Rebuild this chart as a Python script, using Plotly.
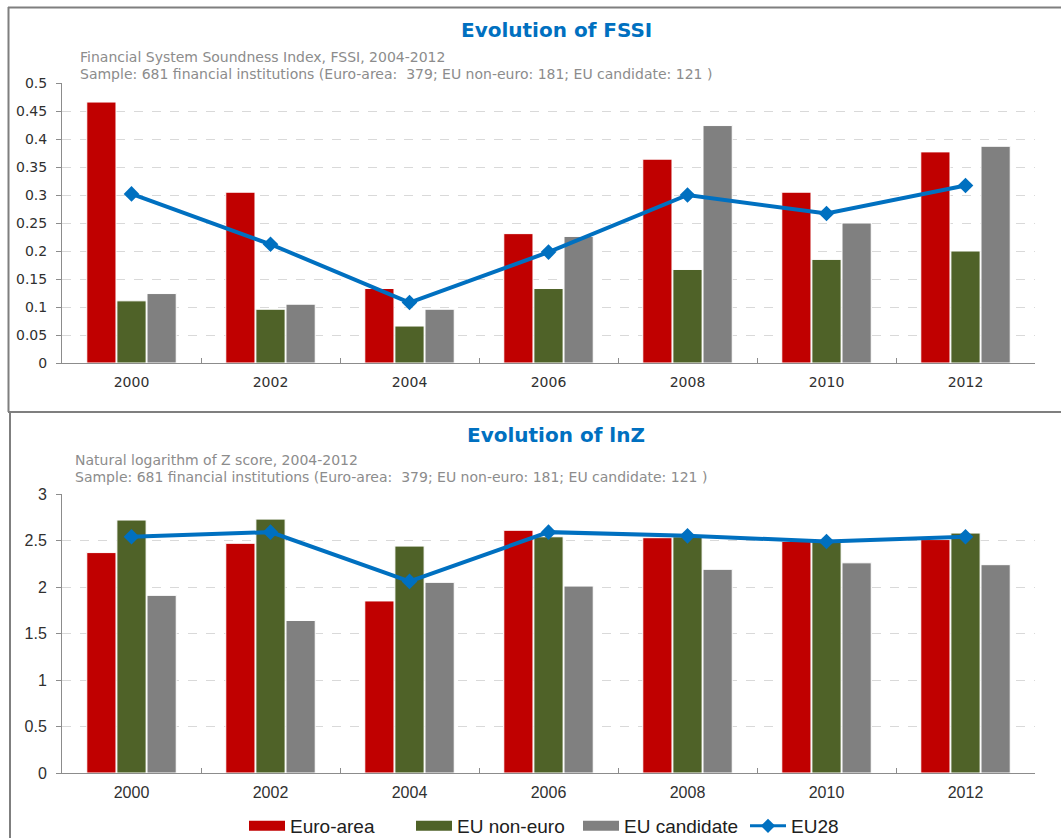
import plotly.graph_objects as go

years = ["2000", "2002", "2004", "2006", "2008", "2010", "2012"]

# Financial System Soundness Index
fssi_euro_area = [0.466, 0.305, 0.133, 0.231, 0.364, 0.305, 0.377]
fssi_non_euro = [0.111, 0.096, 0.066, 0.133, 0.167, 0.185, 0.200]
fssi_candidate = [0.124, 0.105, 0.096, 0.226, 0.424, 0.250, 0.387]
fssi_eu28 = [0.302, 0.212, 0.108, 0.198, 0.300, 0.267, 0.317]

# Natural logarithm of Z score
lnz_euro_area = [2.37, 2.47, 1.85, 2.61, 2.53, 2.49, 2.51]
lnz_non_euro = [2.72, 2.73, 2.44, 2.54, 2.54, 2.49, 2.58]
lnz_candidate = [1.91, 1.64, 2.05, 2.01, 2.19, 2.26, 2.24]
lnz_eu28 = [2.54, 2.59, 2.06, 2.59, 2.55, 2.49, 2.54]

fssi_ticks = [0, 0.05, 0.1, 0.15, 0.2, 0.25, 0.3, 0.35, 0.4, 0.45, 0.5]
fssi_ticklabels = ["0", "0.05", "0.1", "0.15", "0.2", "0.25", "0.3", "0.35", "0.4", "0.45", "0.5"]
lnz_ticks = [0, 0.5, 1, 1.5, 2, 2.5, 3]
lnz_ticklabels = ["0", "0.5", "1", "1.5", "2", "2.5", "3"]

RED = "#C00000"
GREEN = "#4F6228"
GREY = "#808080"
BLUE = "#0070C0"

W, H = 1061, 838
NARROW = "Liberation Sans Narrow, Arial Narrow, sans-serif"
WIDE = "DejaVu Sans, Verdana, sans-serif"


def py(p):
    """Pixel row (from top) to paper fraction."""
    return 1 - p / H


def px_(p):
    return p / W


fig = go.Figure()

series = [("Euro-area", RED), ("EU non-euro", GREEN), ("EU candidate", GREY)]
panels = [
    ("x", "y", fssi_euro_area, fssi_non_euro, fssi_candidate, fssi_eu28),
    ("x2", "y2", lnz_euro_area, lnz_non_euro, lnz_candidate, lnz_eu28),
]
for xa, ya, ea, ne, ca, eu in panels:
    for (name, col), vals in zip(series, [ea, ne, ca]):
        fig.add_trace(go.Bar(
            x=years, y=vals, name=name, xaxis=xa, yaxis=ya,
            marker=dict(color=col, line=dict(color="white", width=1)),
            showlegend=False, legendgroup=name,
        ))
    fig.add_trace(go.Scatter(
        x=years, y=eu, name="EU28", xaxis=xa, yaxis=ya, mode="lines+markers",
        line=dict(color=BLUE, width=4),
        marker=dict(symbol="diamond", size=12, color=BLUE),
        showlegend=False, legendgroup="EU28",
    ))

# Legend entries: wide colour swatches for the bar series, line + diamond for EU28
for name, col in series:
    fig.add_trace(go.Scatter(
        x=[None], y=[None], xaxis="x2", yaxis="y2", mode="lines", name=name,
        line=dict(color=col, width=11), legendgroup=name, showlegend=True,
    ))
fig.add_trace(go.Scatter(
    x=[None], y=[None], xaxis="x2", yaxis="y2", mode="lines+markers", name="EU28",
    line=dict(color=BLUE, width=3), marker=dict(symbol="diamond", size=11, color=BLUE),
    legendgroup="EU28", showlegend=True,
))

axis_common = dict(showline=True, linecolor="#8C8C8C", linewidth=1)
xcommon = dict(axis_common, type="category", tickson="boundaries", ticks="inside",
               ticklen=5, tickcolor="#8C8C8C", showgrid=False, automargin=False)
ycommon = dict(axis_common, ticks="outside", ticklen=5, tickcolor="#8C8C8C",
               showgrid=True, gridcolor="#D9D9D9", griddash="dash", gridwidth=1,
               zeroline=False, automargin=False, ticklabelstandoff=6)

fig.update_layout(
    width=W, height=H,
    margin=dict(l=0, r=0, t=0, b=0, pad=0, autoexpand=False),
    paper_bgcolor="white", plot_bgcolor="white",
    barmode="group", bargap=0.35, bargroupgap=0.03,
    xaxis=dict(xcommon, domain=[px_(62), px_(1035)], anchor="y", ticklabelstandoff=6,
               tickfont=dict(family=WIDE, size=14, color="#303030")),
    yaxis=dict(ycommon, domain=[py(363), py(83)], range=[0, 0.5],
               tickvals=fssi_ticks, ticktext=fssi_ticklabels, anchor="x",
               tickfont=dict(family=WIDE, size=14, color="#303030")),
    xaxis2=dict(xcommon, domain=[px_(62), px_(1035)], anchor="y2", ticklabelstandoff=5,
                tickfont=dict(family=NARROW, size=16, color="#303030")),
    yaxis2=dict(ycommon, domain=[py(773), py(494)], range=[0, 3],
                tickvals=lnz_ticks, ticktext=lnz_ticklabels, anchor="x2",
                tickfont=dict(family=NARROW, size=16, color="#303030")),
    legend=dict(orientation="h", x=px_(244), xanchor="left", y=py(826), yanchor="middle",
                font=dict(family=NARROW, size=19, color="#202020"),
                entrywidth=116, entrywidthmode="pixels", itemwidth=36,
                traceorder="normal"),
    showlegend=True,
)

title_font = dict(family=WIDE, size=20, color=BLUE)
sub_font = dict(family=WIDE, size=14, color="#8C8C8C")

annotations = [
    dict(text="<b>Evolution of FSSI</b>", x=px_(556), y=py(30), font=title_font),
    dict(text="Financial System Soundness Index, FSSI, 2004-2012", x=px_(78), y=py(57),
         xanchor="left", font=sub_font),
    dict(text="Sample: 681 financial institutions (Euro-area:  379; EU non-euro: 181; EU candidate: 121 )",
         x=px_(78), y=py(74), xanchor="left", font=sub_font),
    dict(text="<b>Evolution of lnZ</b>", x=px_(556), y=py(435), font=title_font),
    dict(text="Natural logarithm of Z score, 2004-2012", x=px_(73), y=py(460),
         xanchor="left", font=sub_font),
    dict(text="Sample: 681 financial institutions (Euro-area:  379; EU non-euro: 181; EU candidate: 121 )",
         x=px_(73), y=py(477), xanchor="left", font=sub_font),
]
for a in annotations:
    a.setdefault("xanchor", "center")
    a.update(xref="paper", yref="paper", yanchor="middle", showarrow=False)
fig.update_layout(annotations=annotations)

# Panel frames
frame = dict(color="#7F7F7F", width=2)
shapes = [
    dict(type="line", x0=px_(8), x1=1, y0=py(7.5), y1=py(7.5), line=frame),
    dict(type="line", x0=px_(8.5), x1=px_(8.5), y0=py(7), y1=py(412), line=frame),
    dict(type="line", x0=px_(8), x1=1, y0=py(412), y1=py(412), line=frame),
    dict(type="line", x0=px_(10), x1=px_(10), y0=py(412), y1=0, line=frame),
]
for s in shapes:
    s.update(xref="paper", yref="paper")
fig.update_layout(shapes=shapes)

fig.write_html("out.html")
